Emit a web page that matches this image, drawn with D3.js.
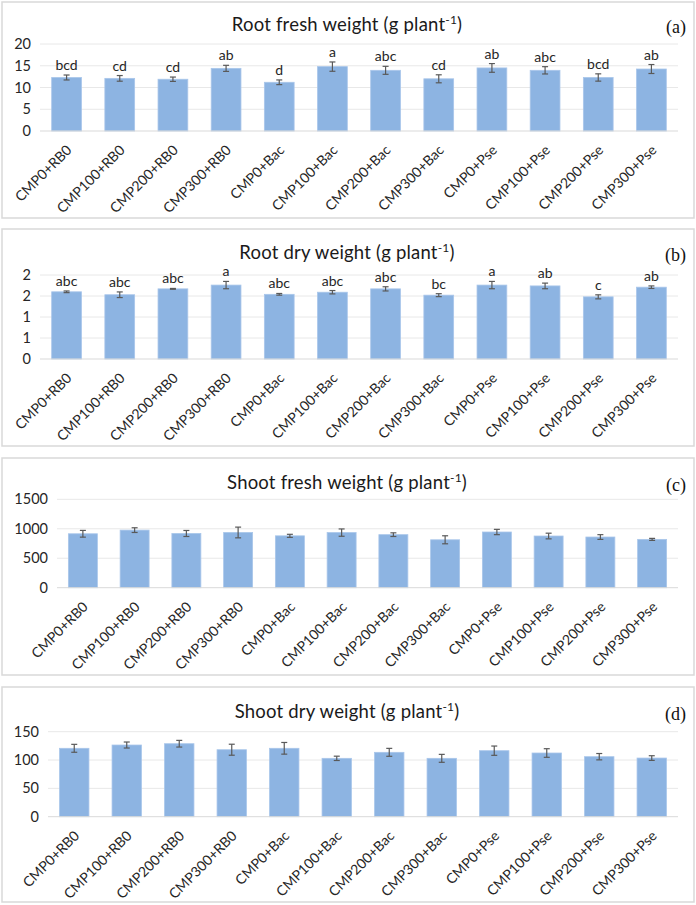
<!DOCTYPE html>
<html>
<head>
<meta charset="utf-8">
<script src="https://cdn.jsdelivr.net/npm/d3@7"></script>
<style>
  body { margin: 0; background: #fff; }
  svg text { font-family: Lato, "Open Sans", sans-serif; }
</style>
</head>
<body>
<svg width="696" height="905"></svg>
<script>
// treatments, same order in every panel
const categories = ['CMP0+RB0', 'CMP100+RB0', 'CMP200+RB0', 'CMP300+RB0',
  'CMP0+Bac', 'CMP100+Bac', 'CMP200+Bac', 'CMP300+Bac',
  'CMP0+Pse', 'CMP100+Pse', 'CMP200+Pse', 'CMP300+Pse'];

// (a) root fresh weight
const rootFresh = [12.3, 12.1, 11.9, 14.4, 11.2, 14.8, 13.95, 12.0, 14.5, 13.95, 12.3, 14.25];
const rootFreshErr = [0.57, 0.65, 0.5, 0.7, 0.54, 1.07, 0.92, 0.92, 1.0, 0.84, 0.84, 1.03];
const rootFreshLetters = ['bcd', 'cd', 'cd', 'ab', 'd', 'a', 'abc', 'cd', 'ab', 'abc', 'bcd', 'ab'];
const rootFreshTicks = [0, 5, 10, 15, 20];
const rootFreshTickLabels = ['0', '5', '10', '15', '20'];

// (b) root dry weight
const rootDry = [1.6, 1.53, 1.67, 1.76, 1.54, 1.59, 1.67, 1.52, 1.76, 1.74, 1.48, 1.71];
const rootDryErr = [0.02, 0.067, 0.01, 0.087, 0.02, 0.04, 0.05, 0.035, 0.087, 0.067, 0.048, 0.03];
const rootDryLetters = ['abc', 'abc', 'abc', 'a', 'abc', 'abc', 'abc', 'bc', 'a', 'ab', 'c', 'ab'];
const rootDryTicks = [0, 0.5, 1, 1.5, 2];
const rootDryTickLabels = ['0', '1', '1', '2', '2'];

// (c) shoot fresh weight
const shootFresh = [915, 977, 920, 937, 880, 935, 900, 813, 945, 877, 860, 820];
const shootFreshErr = [57, 40, 51, 91, 26, 62, 31, 68, 45, 48, 40, 17];
const shootFreshTicks = [0, 500, 1000, 1500];
const shootFreshTickLabels = ['0', '500', '1000', '1500'];

// (d) shoot dry weight
const shootDry = [120.7, 126.5, 128.8, 118.2, 120.7, 103, 113.6, 103, 116.5, 112.4, 105.9, 103.5];
const shootDryErr = [7, 5.3, 5.9, 9.7, 10.3, 3.8, 7, 7, 8.2, 7.6, 5.6, 4.1];
const shootDryTicks = [0, 50, 100, 150];
const shootDryTickLabels = ['0', '50', '100', '150'];

const panels = [
  {title: 'Root fresh weight', tag: '(a)', values: rootFresh, err: rootFreshErr, letters: rootFreshLetters,
   ticks: rootFreshTicks, tickLabels: rootFreshTickLabels,
   box: [2, 2, 692, 216], left: 40, right: 678, y0: 131, yTop: 44, titleY: 31},
  {title: 'Root dry weight', tag: '(b)', values: rootDry, err: rootDryErr, letters: rootDryLetters,
   ticks: rootDryTicks, tickLabels: rootDryTickLabels,
   box: [2, 229, 692, 217], left: 40, right: 678, y0: 359, yTop: 275, titleY: 259},
  {title: 'Shoot fresh weight', tag: '(c)', values: shootFresh, err: shootFreshErr, letters: null,
   ticks: shootFreshTicks, tickLabels: shootFreshTickLabels,
   box: [2, 458, 692, 217], left: 57, right: 678, y0: 587.7, yTop: 499.3, titleY: 489},
  {title: 'Shoot dry weight', tag: '(d)', values: shootDry, err: shootDryErr, letters: null,
   ticks: shootDryTicks, tickLabels: shootDryTickLabels,
   box: [2, 687, 692, 215], left: 48, right: 678, y0: 816.7, yTop: 731.7, titleY: 718}
];

const svg = d3.select('svg');

panels.forEach(p => {
  const g = svg.append('g');

  g.append('rect')
    .attr('x', p.box[0]).attr('y', p.box[1])
    .attr('width', p.box[2]).attr('height', p.box[3])
    .attr('fill', '#fff').attr('stroke', '#d9d9d9').attr('stroke-width', 1.5);

  const x = d3.scaleBand().domain(categories).range([p.left, p.right])
    .paddingInner(0.44).paddingOuter(0.22);
  const y = d3.scaleLinear().domain([0, d3.max(p.ticks)]).range([p.y0, p.yTop]);

  // gridlines
  g.selectAll('.grid').data(p.ticks.slice(1)).enter().append('line')
    .attr('x1', p.left).attr('x2', p.right)
    .attr('y1', d => y(d)).attr('y2', d => y(d))
    .attr('stroke', '#e8e8e8').attr('stroke-width', 1);

  // y tick labels
  g.selectAll('.ytick').data(p.ticks).enter().append('text')
    .attr('x', p.left - 9).attr('y', d => y(d) + 5)
    .attr('text-anchor', 'end').attr('font-size', 14.5).attr('fill', '#262626')
    .text((d, i) => p.tickLabels[i]);

  // bars
  g.selectAll('.bar').data(p.values).enter().append('rect')
    .attr('x', (d, i) => x(categories[i]))
    .attr('width', x.bandwidth())
    .attr('y', d => y(d))
    .attr('height', d => y(0) - y(d))
    .attr('fill', '#8db4e2').attr('stroke', '#a9c6ea').attr('stroke-width', 0.8);

  // baseline
  g.append('line').attr('x1', p.left).attr('x2', p.right)
    .attr('y1', y(0)).attr('y2', y(0)).attr('stroke', '#d9d9d9').attr('stroke-width', 1);

  // error bars
  const eb = g.selectAll('.err').data(p.values).enter().append('g')
    .attr('transform', (d, i) => `translate(${x(categories[i]) + x.bandwidth() / 2},0)`)
    .attr('stroke', '#595959').attr('stroke-width', 1.2);
  eb.append('line').attr('y1', (d, i) => y(d + p.err[i])).attr('y2', (d, i) => y(d - p.err[i]));
  eb.append('line').attr('x1', -3).attr('x2', 3)
    .attr('y1', (d, i) => y(d + p.err[i])).attr('y2', (d, i) => y(d + p.err[i]));
  eb.append('line').attr('x1', -3).attr('x2', 3)
    .attr('y1', (d, i) => y(d - p.err[i])).attr('y2', (d, i) => y(d - p.err[i]));

  // significance letters
  if (p.letters) {
    g.selectAll('.letter').data(p.values).enter().append('text')
      .attr('x', (d, i) => x(categories[i]) + x.bandwidth() / 2)
      .attr('y', (d, i) => y(d + p.err[i]) - 5)
      .attr('text-anchor', 'middle').attr('font-size', 14).attr('fill', '#262626')
      .text((d, i) => p.letters[i]);
  }

  // x labels
  g.selectAll('.xlab').data(categories).enter().append('text')
    .attr('transform', d => `translate(${x(d) + x.bandwidth() / 2 + 6},${p.y0 + 20}) rotate(-45)`)
    .attr('text-anchor', 'end').attr('font-size', 14).attr('fill', '#262626')
    .text(d => d);

  // title
  const t = g.append('text').attr('x', 347).attr('y', p.titleY)
    .attr('text-anchor', 'middle').attr('font-size', 18.5).attr('fill', '#1a1a1a')
    .attr('letter-spacing', 0.2);
  t.append('tspan').text(p.title + ' (g plant');
  t.append('tspan').attr('font-size', 12).attr('dy', -7).text('-1');
  t.append('tspan').attr('dy', 7).text(')');

  g.append('text').attr('x', 686).attr('y', p.titleY + 2)
    .attr('text-anchor', 'end').attr('font-size', 18)
    .style('font-family', '"Liberation Serif", "DejaVu Serif", serif')
    .attr('fill', '#111').text(p.tag);
});
</script>
</body>
</html>
